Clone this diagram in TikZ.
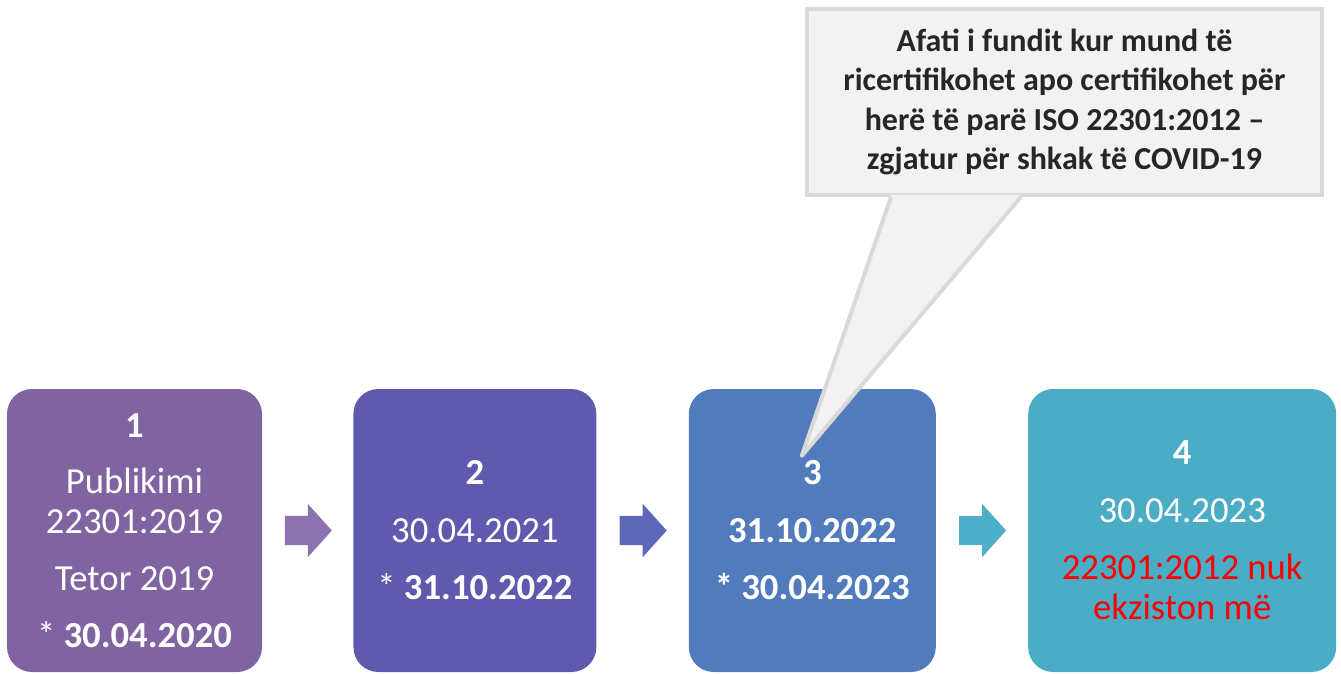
\documentclass[tikz,border=0pt]{standalone}
\usepackage{fontspec}
\setmainfont{Carlito}
\usetikzlibrary{positioning,shapes.arrows,calc}
\definecolor{stepone}{HTML}{8064A2}
\definecolor{steptwo}{HTML}{5F5AAD}
\definecolor{stepthree}{HTML}{527BBD}
\definecolor{stepfour}{HTML}{4BACC6}
\definecolor{arrowone}{HTML}{8D72B0}
\definecolor{arrowtwo}{HTML}{5E68B8}
\definecolor{arrowthree}{HTML}{4DAFC9}
\definecolor{notefill}{HTML}{F2F2F2}
\definecolor{noteline}{HTML}{D9D9D9}
\definecolor{notetext}{HTML}{262626}
\begin{document}
\begin{tikzpicture}[x=1pt,y=-1pt,node distance=91pt,
  box/.style={rounded corners=25pt,inner sep=0pt,minimum height=283pt,
    text=white,align=center,font=\fontsize{36.7}{40}\selectfont},
  chevron/.style={single arrow,single arrow head extend=12pt,
    single arrow tip angle=96,minimum height=47pt,minimum width=53pt,
    inner xsep=0pt,inner ysep=14.5pt,xshift=-6pt},
  note/.style={draw=noteline,fill=notefill,line width=4pt,minimum width=515pt,
    minimum height=186pt,text=notetext,align=center,
    font=\fontsize{32}{39.5}\selectfont\bfseries}]
  \useasboundingbox (0,0) rectangle (1341,673);
  \node[box,fill=stepone,minimum width=255pt] (s1) at (134.5,530.5)
    {\textbf{1}\\[16pt]Publikimi\\22301:2019\\[17pt]Tetor 2019\\[17pt]* \textbf{30.04.2020}};
  \node[box,fill=steptwo,minimum width=243pt] (s2) [right = of s1]
    {\textbf{2}\\[18pt]30.04.2021\\[17pt]* \textbf{31.10.2022}};
  \node[box,fill=stepthree,minimum width=247pt] (s3) [right = 92pt of s2]
    {\textbf{3}\\[18pt]\textbf{31.10.2022}\\[17pt]\textbf{* 30.04.2023}};
  \node[box,fill=stepfour,minimum width=308pt] (s4) [right = 92pt of s3]
    {\textbf{4}\\[18pt]30.04.2023\\[17pt]\color{red}22301:2012 nuk\\\color{red}ekziston më};
  \node[chevron,fill=arrowone] (a1) at ($(s1.east)!0.5!(s2.west)$) {};
  \node[chevron,fill=arrowtwo] (a2) at ($(s2.east)!0.5!(s3.west)$) {};
  \node[chevron,fill=arrowthree] (a3) at ($(s3.east)!0.5!(s4.west)$) {};
  % callout
  \node[note] (note) at (1064.5,102)
    {Afati i fundit kur mund të\\ricertifikohet apo certifikohet për\\herë të parë ISO 22301:2012 –\\zgjatur për shkak të COVID-19};
  \coordinate (tip) at ($(s3.north)+(-10.5,67)$);
  \fill[notefill] ($(note.south west)+(86.5,-2.5)$) -- (tip) -- ($(note.south west)+(215.5,-2.5)$) -- cycle;
  \draw[noteline,line width=4pt,line join=round]
    ($(note.south west)+(86,0)$) -- (tip) -- ($(note.south west)+(216,0)$);
\end{tikzpicture}
\end{document}
